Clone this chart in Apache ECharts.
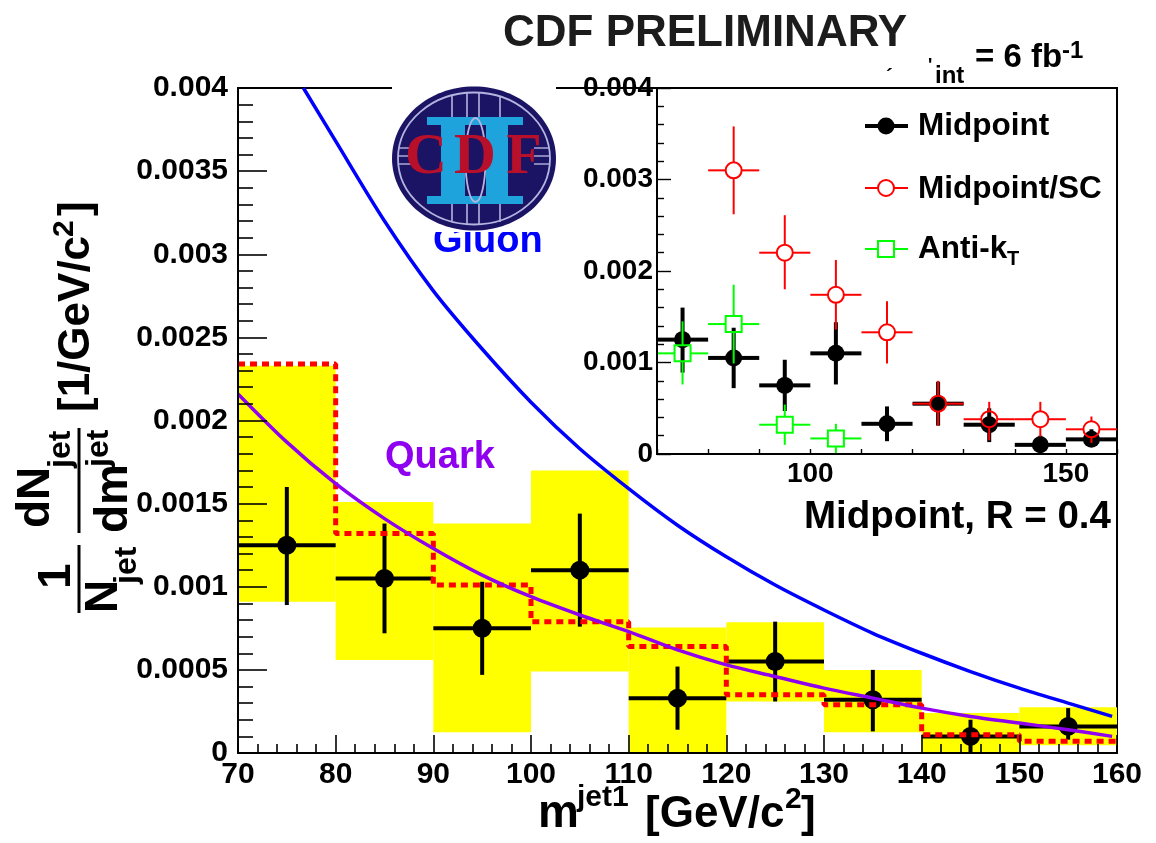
<!DOCTYPE html>
<html><head><meta charset="utf-8">
<style>html,body{margin:0;padding:0;background:#fff}#c{width:1156px;height:843px}</style>
<script src="https://cdn.jsdelivr.net/npm/echarts@6/dist/echarts.min.js"></script>
</head><body><div id="c"></div>
<script>
// Bin centres
const binCentres = [75, 85, 95, 105, 115, 125, 135, 145, 155];
// Midpoint
const midY    = [0.00125, 0.00105, 0.00075, 0.0011, 0.00033, 0.00055, 0.00032, 0.0001, 0.00016];
const midLow  = [0.00089, 0.00072, 0.00047, 0.00076, 0.00014, 0.00031, 0.00013, 0, 0.00008];
const midHigh = [0.0016, 0.00138, 0.00103, 0.00144, 0.00052, 0.00079, 0.0005, 0.0002, 0.00027];
// Systematic band
const bandLow  = [0.00091, 0.00056, 0.000125, 0.00049, 0, 0.00031, 0.000125, 0, 0.000046];
const bandHigh = [0.00233, 0.00151, 0.00138, 0.0017, 0.000755, 0.000786, 0.0005, 0.00024, 0.000275];
// Dashed histogram
const histEdges  = [70, 80, 90, 100, 110, 120, 130, 140, 150, 160];
const histValues = [0.00234, 0.00132, 0.00101, 0.00079, 0.00064, 0.00035, 0.00029, 0.00011, 0.00007, 0.00007];
// Curves
const quarkX = [70, 75, 80, 85, 90, 95, 100, 105, 110, 115, 120, 125, 130, 135, 140, 145, 150, 155, 159.5];
const quarkY = [0.00216, 0.00187, 0.00162, 0.00141, 0.00123, 0.00107, 0.00094, 0.00083, 0.00073, 0.00062, 0.00053, 0.00046, 0.00039, 0.00033, 0.00027, 0.00022, 0.00018, 0.00014, 0.0001];
const gluonX = [76.7, 80, 85, 90, 95, 100, 105, 110, 115, 120, 125, 130, 135, 140, 145, 150, 155, 159.5];
const gluonY = [0.004, 0.00368, 0.0032, 0.00278, 0.00243, 0.00211, 0.00183, 0.00159, 0.00137, 0.00118, 0.00101, 0.00086, 0.00072, 0.0006, 0.00049, 0.00039, 0.0003, 0.00022];
// Inset: Midpoint/SC
const scX    = [85, 95, 105, 115, 125, 135, 145, 155];
const scY    = [0.0031, 0.0022, 0.00174, 0.00133, 0.00055, 0.00038, 0.00038, 0.00027];
const scLow  = [0.00262, 0.0018, 0.00136, 0.00099, 0.00031, 0.00015, 0.00019, 0.00012];
const scHigh = [0.00358, 0.00261, 0.00212, 0.00167, 0.0008, 0.00057, 0.00057, 0.00041];
// Inset: Anti-kT
const akX    = [75, 85, 95, 105];
const akY    = [0.0011, 0.00142, 0.00032, 0.00017];
const akLow  = [0.00076, 0.00099, 0.0001, 0.00001];
const akHigh = [0.00145, 0.00185, 0.00054, 0.00033];
// Tick labels
const insetXLabels = [100, 150];
const legendNames = ['Midpoint', 'Midpoint/SC', 'Anti-k'];

const FONT = '"Liberation Sans", Arial, sans-serif';
const rows = (x, y, lo, hi) => x.map((v, i) => [v, y[i], lo[i], hi[i]]);

function errRender(color, width, marker, size) {
  return function (params, api) {
    const x = api.value(0), y = api.value(1), lo = api.value(2), hi = api.value(3);
    const c = api.coord([x, y]);
    const l = api.coord([x - 5, y]), r = api.coord([x + 5, y]);
    const t = api.coord([x, hi]), b = api.coord([x, lo]);
    const gap = marker === 'disc' ? 0 : size;
    const st = { stroke: color, lineWidth: width, fill: null };
    const seg = (x1, y1, x2, y2) => ({ type: 'line', shape: { x1, y1, x2, y2 }, style: st });
    const kids = [
      seg(l[0], c[1], c[0] - gap, c[1]), seg(c[0] + gap, c[1], r[0], c[1]),
      seg(c[0], t[1], c[0], Math.min(c[1] - gap, b[1])), seg(c[0], Math.min(c[1] + gap, b[1]), c[0], b[1])
    ];
    if (marker === 'disc') kids.push({ type: 'circle', shape: { cx: c[0], cy: c[1], r: size }, style: { fill: color } });
    if (marker === 'ring') kids.push({ type: 'circle', shape: { cx: c[0], cy: c[1], r: size }, style: { stroke: color, lineWidth: width, fill: null } });
    if (marker === 'square') kids.push({ type: 'rect', shape: { x: c[0] - size, y: c[1] - size, width: 2 * size, height: 2 * size }, style: { stroke: color, lineWidth: width, fill: null } });
    return { type: 'group', children: kids };
  };
}
function errSeries(name, data, axis, z, color, width, marker, size) {
  return { name, type: 'custom', xAxisIndex: axis, yAxisIndex: axis, z, clip: true, silent: true,
    data, renderItem: errRender(color, width, marker, size), encode: { x: 0, y: 1 } };
}

// text helpers: x / baseline in page pixels
const T = (text, x, base, size, fill, align, extra) => Object.assign({
  type: 'text', x: x, y: base - 0.34 * size, silent: true,
  style: { text, font: 'bold ' + size + 'px ' + FONT, fill: fill || '#000', textAlign: align || 'left', textVerticalAlign: 'middle' }
}, extra || {});
const V = (text, baseX, bottomY, size) => ({
  type: 'text', x: baseX - 0.34 * size, y: bottomY, rotation: Math.PI / 2, silent: true,
  style: { text, font: 'bold ' + size + 'px ' + FONT, fill: '#000', textAlign: 'left', textVerticalAlign: 'middle' }
});
const R = (x, y, w, h, fill) => ({ type: 'rect', silent: true, shape: { x, y, width: w, height: h }, style: { fill } });
const E = (cx, cy, rx, ry, style) => ({ type: 'ellipse', silent: true, shape: { cx, cy, rx, ry }, style });
const L = (x1, y1, x2, y2, stroke, lw) => ({ type: 'line', silent: true, shape: { x1, y1, x2, y2 }, style: { stroke, lineWidth: lw } });
const S = (ch, x, size) => ({ type: 'text', x, y: 158, silent: true, style: { text: ch, font: 'bold ' + size + 'px "Liberation Serif", serif', fill: '#b8102a', textAlign: 'center', textVerticalAlign: 'middle' } });
const GREY = '#b4b4e0';
const ringStyle = { stroke: GREY, lineWidth: 1.8, fill: null };
const CYAN = '#1fa3dc';

const graphic = [
  // text beneath the logo
  T('Gluon', 433, 254, 38, '#0000ff'),
  // logo
  R(392, 86, 164, 146, '#ffffff'),
  E(474, 158.5, 82, 72, { fill: '#1b1464' }),
  E(474, 158.5, 76, 66, ringStyle),
  L(452, 96, 452, 117, GREY, 1.6), L(467, 93, 467, 117, GREY, 1.6), L(479, 93, 479, 117, GREY, 1.6), L(500, 96, 500, 117, GREY, 1.6),
  L(452, 204, 452, 222, GREY, 1.6), L(467, 204, 467, 224, GREY, 1.6), L(479, 204, 479, 224, GREY, 1.6), L(500, 204, 500, 222, GREY, 1.6),
  L(399, 148, 415, 148, GREY, 1.4), L(398, 156, 415, 156, GREY, 1.4), L(399, 164, 415, 164, GREY, 1.4),
  L(534, 148, 549, 148, GREY, 1.4), L(534, 156, 550, 156, GREY, 1.4), L(534, 164, 549, 164, GREY, 1.4),
  R(427, 117, 96, 8, CYAN), R(427, 196, 96, 8, CYAN),
  R(441, 117, 24, 87, CYAN), R(486, 117, 22, 87, CYAN),
  E(475.5, 160, 10, 42, ringStyle),
  S('C', 426, 58), S('D', 475, 58), S('F', 524, 58),
  // title and luminosity
  T('CDF PRELIMINARY', 503, 49, 44, '#1c1c1c'),
  T('int', 935, 85, 24),
  T('= 6 fb', 975, 69, 33),
  T('-1', 1062, 60, 24),
  T('\u00b4', 886, 84, 20), T('\'', 928, 72, 18),
  // labels
  T('Quark', 385, 470, 38, '#9000f0'),
  T('Midpoint, R = 0.4', 804, 530, 38.5),
  // legend
  L(865, 126, 908, 126, '#000', 4), { type: 'circle', silent: true, shape: { cx: 886, cy: 126, r: 8.5 }, style: { fill: '#000' } },
  T(legendNames[0], 918, 137, 31.5),
  L(865, 188, 878, 188, '#f00', 2), L(894, 188, 908, 188, '#f00', 2),
  { type: 'circle', silent: true, shape: { cx: 886, cy: 188, r: 8 }, style: { stroke: '#f00', lineWidth: 2, fill: null } },
  T(legendNames[1], 918, 200, 31.5),
  L(865, 249, 878, 249, '#0f0', 2), L(894, 249, 908, 249, '#0f0', 2),
  { type: 'rect', silent: true, shape: { x: 878, y: 241, width: 16, height: 16 }, style: { stroke: '#0f0', lineWidth: 2, fill: null } },
  T(legendNames[2], 918, 260, 31.5), T('T', 1007, 266, 20),
  // y title
  V('1', 73, 589, 46),
  L(79, 545, 79, 613, '#000', 3),
  V('N', 120, 613, 46), V('jet', 138, 584, 32),
  V('dN', 52, 528, 46), V('jet', 72, 468, 32),
  L(79, 428, 79, 533, '#000', 3),
  V('dm', 130, 533, 46), V('jet', 110, 467, 32),
  V('[1/GeV/c', 92, 412, 44), V('2', 75, 237, 30), V(']', 92, 216, 44),
  // x title
  T('m', 538, 830, 46), T('jet1', 577, 808, 30),
  T('[GeV/c', 645, 830, 44), T('2', 785, 810, 30), T(']', 801, 830, 44)
];

const bandData = binCentres.map((x, i) => [x, bandLow[i], bandHigh[i]]);
const axisText = size => ({ color: '#000', fontWeight: 'bold', fontFamily: FONT, fontSize: size });
const blackLine = w => ({ lineStyle: { color: '#000', width: w } });

const option = {
  animation: false,
  backgroundColor: '#fff',
  grid: [
    { left: 238, top: 88, width: 879, height: 665, show: true, borderColor: '#000', borderWidth: 2, backgroundColor: 'transparent' },
    { left: 657, top: 88, width: 460, height: 366, show: true, borderColor: '#000', borderWidth: 2, backgroundColor: '#fff' }
  ],
  xAxis: [
    { type: 'value', gridIndex: 0, min: 70, max: 160, interval: 10, z: 10,
      axisLine: { show: true, onZero: false, ...blackLine(2) },
      axisTick: { show: true, inside: true, length: 18, ...blackLine(1.6) },
      minorTick: { show: true, splitNumber: 5, length: 9, ...blackLine(1.6) },
      splitLine: { show: false },
      axisLabel: { ...axisText(30), margin: 7, showMinLabel: true, showMaxLabel: true } },
    { type: 'value', gridIndex: 1, min: 70, max: 160, interval: 10, z: 10,
      axisLine: { show: true, onZero: false, ...blackLine(2) },
      axisTick: { show: true, inside: true, length: 5, ...blackLine(1.4) },
      splitLine: { show: false },
      axisLabel: { ...axisText(28), margin: 6, customValues: insetXLabels } }
  ],
  yAxis: [
    { type: 'value', gridIndex: 0, min: 0, max: 0.004, interval: 0.0005, z: 10,
      axisLine: { show: true, onZero: false, ...blackLine(2) },
      axisTick: { show: true, inside: true, length: 29, ...blackLine(1.6) },
      minorTick: { show: true, splitNumber: 5, length: 15, ...blackLine(1.6) },
      splitLine: { show: false },
      axisLabel: { ...axisText(30), margin: 10, showMinLabel: true, showMaxLabel: true } },
    { type: 'value', gridIndex: 1, min: 0, max: 0.004, interval: 0.001, z: 10,
      axisLine: { show: true, onZero: false, ...blackLine(2) },
      axisTick: { show: true, inside: true, length: 14, ...blackLine(1.4) },
      minorTick: { show: true, splitNumber: 5, length: 7, ...blackLine(1.4) },
      splitLine: { show: false },
      axisLabel: { ...axisText(28), margin: 4, showMinLabel: true, showMaxLabel: true } }
  ],
  graphic: { z: 20, elements: graphic },
  series: [
    { name: 'Systematic band', type: 'custom', xAxisIndex: 0, yAxisIndex: 0, z: 1, silent: true, data: bandData, encode: { x: 0, y: [1, 2] },
      renderItem: (p, api) => {
        const a = api.coord([api.value(0) - 5, api.value(2)]), b = api.coord([api.value(0) + 5, api.value(1)]);
        return { type: 'rect', shape: { x: a[0], y: a[1], width: b[0] - a[0], height: b[1] - a[1] }, style: { fill: '#ffff00' } };
      } },
    errSeries('Midpoint', rows(binCentres, midY, midLow, midHigh), 0, 2, '#000', 4, 'disc', 9.5),
    { name: 'Histogram', type: 'line', xAxisIndex: 0, yAxisIndex: 0, z: 3, step: 'end', showSymbol: false, silent: true,
      data: histEdges.map((x, i) => [x, histValues[i]]),
      lineStyle: { color: '#ff0000', width: 5, type: [7, 5] } },
    { name: 'Quark', type: 'line', xAxisIndex: 0, yAxisIndex: 0, z: 4, smooth: 0.3, showSymbol: false, silent: true,
      data: quarkX.map((x, i) => [x, quarkY[i]]), lineStyle: { color: '#9000f0', width: 3.5 } },
    { name: 'Gluon', type: 'line', xAxisIndex: 0, yAxisIndex: 0, z: 4, smooth: 0.3, showSymbol: false, silent: true,
      data: gluonX.map((x, i) => [x, gluonY[i]]), lineStyle: { color: '#0000ff', width: 3.5 } },
    errSeries('Midpoint inset', rows(binCentres, midY, midLow, midHigh), 1, 5, '#000', 4, 'disc', 8.5),
    errSeries('Anti-kT', rows(akX, akY, akLow, akHigh), 1, 6, '#00ff00', 2, 'square', 8),
    errSeries('Midpoint/SC', rows(scX, scY, scLow, scHigh), 1, 7, '#ff0000', 2, 'ring', 8)
  ]
};
echarts.init(document.getElementById('c'), null, { renderer: 'canvas' }).setOption(option);
</script></body></html>
